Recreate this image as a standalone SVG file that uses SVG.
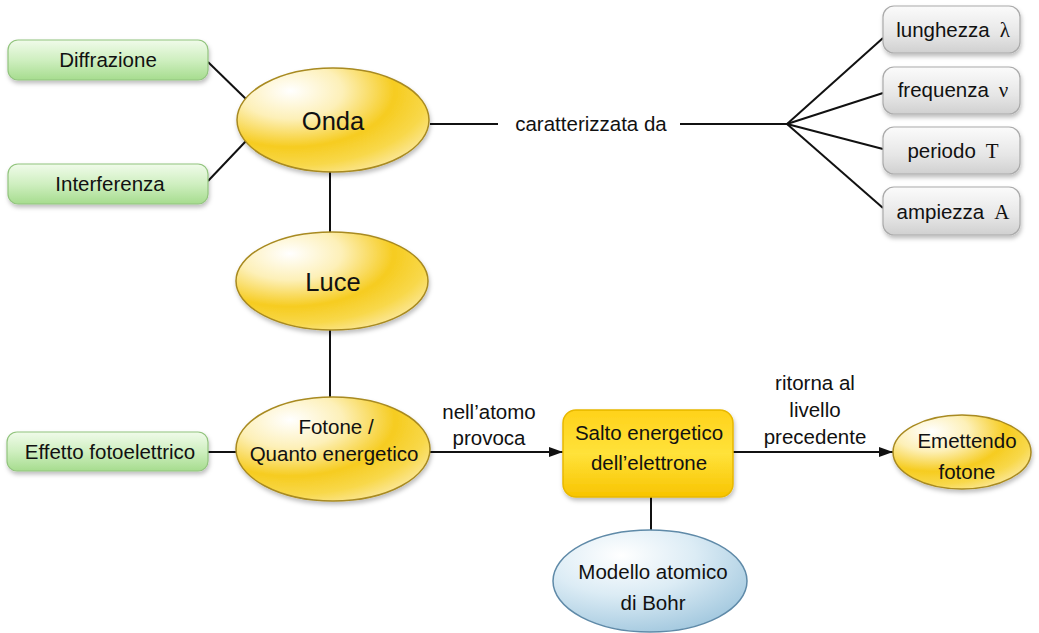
<svg xmlns="http://www.w3.org/2000/svg" width="1039" height="633" viewBox="0 0 1039 633">
<defs>
<linearGradient id="gGreen" x1="0" y1="0" x2="0" y2="1">
<stop offset="0" stop-color="#f0fbea"/><stop offset="0.5" stop-color="#cfefc0"/><stop offset="1" stop-color="#a6dc8e"/>
</linearGradient>
<linearGradient id="gGray" x1="0" y1="0" x2="0" y2="1">
<stop offset="0" stop-color="#fbfbfb"/><stop offset="0.6" stop-color="#e6e6e6"/><stop offset="1" stop-color="#d0d0d0"/>
</linearGradient>
<radialGradient id="gYellow" cx="0.28" cy="0.22" r="0.9">
<stop offset="0" stop-color="#ffffff"/><stop offset="0.3" stop-color="#fdf0b8"/><stop offset="0.6" stop-color="#f6cc20"/><stop offset="0.8" stop-color="#f8d84a"/><stop offset="1" stop-color="#fcebaa"/>
</radialGradient>
<radialGradient id="gBlue" cx="0.35" cy="0.25" r="0.85">
<stop offset="0" stop-color="#ffffff"/><stop offset="0.45" stop-color="#dcecf5"/><stop offset="1" stop-color="#9cc4dc"/>
</radialGradient>
<linearGradient id="gSalto" x1="0" y1="0" x2="0" y2="1">
<stop offset="0" stop-color="#ffd21a"/><stop offset="0.5" stop-color="#ffe23a"/><stop offset="1" stop-color="#f8c400"/>
</linearGradient>
<filter id="sh" x="-20%" y="-20%" width="140%" height="150%">
<feDropShadow dx="1" dy="3" stdDeviation="2" flood-color="#000" flood-opacity="0.25"/>
</filter>
<marker id="arr" markerWidth="14" markerHeight="10" refX="14" refY="5" orient="auto" markerUnits="userSpaceOnUse">
<path d="M0,0 L14,5 L0,10 Z" fill="#111"/>
</marker>
</defs>
<style>
.t{font-family:"Liberation Sans",Arial,sans-serif;font-size:20.5px;fill:#111;text-anchor:middle}
.big{font-size:25.5px}
.g{font-family:"Liberation Serif","Times New Roman",serif;font-size:21px}
.green{fill:url(#gGreen);stroke:#92c47e;stroke-width:1.2;filter:url(#sh)}
.gray{fill:url(#gGray);stroke:#aaaaaa;stroke-width:1.2;filter:url(#sh)}
.yel{fill:url(#gYellow);stroke:#a88a20;stroke-width:1.5;filter:url(#sh)}
.blue{fill:url(#gBlue);stroke:#5f8aa8;stroke-width:1.5}
.ln{stroke:#111;stroke-width:2;fill:none}
</style>

<g id="connectors">
<line class="ln" x1="208" y1="62" x2="246" y2="99"/>
<line class="ln" x1="208" y1="181" x2="246" y2="141"/>
<line class="ln" x1="330" y1="172" x2="330" y2="232"/>
<line class="ln" x1="330" y1="330" x2="330" y2="398"/>
<line class="ln" x1="208" y1="452" x2="237" y2="452"/>
<line class="ln" x1="430" y1="124" x2="498" y2="124"/>
<line class="ln" x1="680" y1="124" x2="787" y2="124"/>
<line class="ln" x1="787" y1="124" x2="883" y2="38"/>
<line class="ln" x1="787" y1="124" x2="883" y2="93"/>
<line class="ln" x1="787" y1="124" x2="883" y2="149"/>
<line class="ln" x1="787" y1="124" x2="883" y2="208"/>
<line class="ln" x1="430" y1="452" x2="563" y2="452" marker-end="url(#arr)"/>
<line class="ln" x1="733" y1="452" x2="893" y2="452" marker-end="url(#arr)"/>
<line class="ln" x1="651" y1="497" x2="651" y2="531"/>
<text class="t" x="591" y="131">caratterizzata da</text>
<text class="t" x="489" y="419">nell’atomo</text>
<text class="t" x="489" y="445">provoca</text>
<text class="t" x="815" y="390">ritorna al</text>
<text class="t" x="815" y="417">livello</text>
<text class="t" x="815" y="444">precedente</text>
</g>

<g id="diffrazione">
<rect class="green" x="8" y="40" width="200" height="40" rx="10"/>
<text class="t" x="108" y="67">Diffrazione</text>
</g>
<g id="interferenza">
<rect class="green" x="8" y="164" width="200" height="40" rx="10"/>
<text class="t" x="110" y="191">Interferenza</text>
</g>
<g id="effetto">
<rect class="green" x="7" y="432" width="201" height="39" rx="10"/>
<text class="t" x="110" y="459">Effetto fotoelettrico</text>
</g>

<g id="onda">
<ellipse class="yel" cx="333" cy="120" rx="96" ry="52"/>
<text class="t big" x="333" y="130">Onda</text>
</g>
<g id="luce">
<ellipse class="yel" cx="332" cy="281" rx="96" ry="49"/>
<text class="t big" x="333" y="291">Luce</text>
</g>
<g id="fotone">
<ellipse class="yel" cx="333" cy="449" rx="97" ry="52"/>
<text class="t" x="336" y="434">Fotone /</text>
<text class="t" x="334" y="461">Quanto energetico</text>
</g>

<g id="lunghezza">
<rect class="gray" x="883" y="6" width="137" height="47" rx="11"/>
<text class="t" x="953" y="37">lunghezza<tspan class="g" dx="10">λ</tspan></text>
</g>
<g id="frequenza">
<rect class="gray" x="883" y="67" width="137" height="47" rx="11"/>
<text class="t" x="953" y="97">frequenza<tspan class="g" dx="10">ν</tspan></text>
</g>
<g id="periodo">
<rect class="gray" x="883" y="127" width="137" height="47" rx="11"/>
<text class="t" x="953" y="158">periodo<tspan class="g" dx="10">T</tspan></text>
</g>
<g id="ampiezza">
<rect class="gray" x="883" y="187" width="137" height="48" rx="11"/>
<text class="t" x="953" y="219">ampiezza<tspan class="g" dx="10">A</tspan></text>
</g>

<g id="salto">
<rect x="563" y="410" width="170" height="87" rx="13" fill="url(#gSalto)" stroke="#e8b800" stroke-width="1.5" filter="url(#sh)"/>
<text class="t" x="649" y="440">Salto energetico</text>
<text class="t" x="649" y="470">dell’elettrone</text>
</g>

<g id="emettendo">
<ellipse class="yel" cx="962" cy="452" rx="69" ry="37"/>
<text class="t" x="967" y="448">Emettendo</text>
<text class="t" x="967" y="479">fotone</text>
</g>

<g id="modello">
<ellipse class="blue" cx="650" cy="581" rx="97" ry="51"/>
<text class="t" x="653" y="579">Modello atomico</text>
<text class="t" x="653" y="610">di Bohr</text>
</g>
</svg>
